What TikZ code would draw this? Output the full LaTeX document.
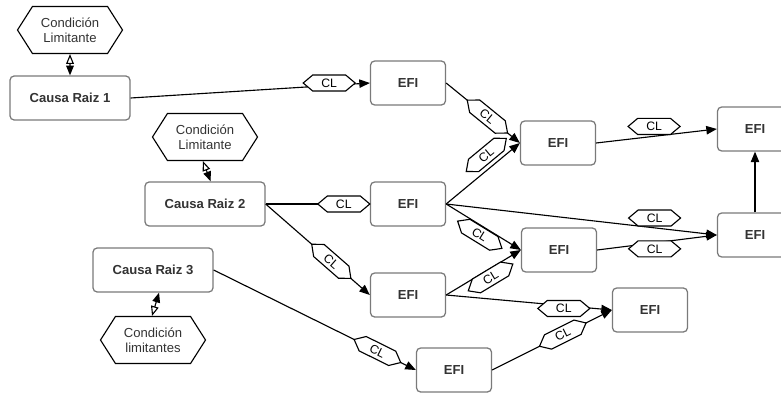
\documentclass[tikz,border=0pt]{standalone}
\usepackage{fontspec}
\setmainfont{Liberation Sans}
\usetikzlibrary{shapes.symbols,arrows.meta}
\definecolor{boxgray}{HTML}{7A7A7A}
\definecolor{txtgray}{HTML}{333333}
\tikzset{
  causa/.style={draw=boxgray, line width=0.9pt, rounded corners=3pt, minimum width=3cm, minimum height=1.1cm, font=\fontsize{9.3}{11}\selectfont\bfseries, text=txtgray},
  efi/.style={causa, minimum width=1.875cm},
  cond/.style={draw, line width=0.8pt, shape=signal, signal to=west and east, signal pointer angle=115, minimum width=2.625cm, minimum height=1.175cm, inner sep=1pt, align=center, font=\fontsize{9.3}{11}\selectfont, text=txtgray},
  cl/.style={draw, fill=white, line width=0.8pt, shape=signal, signal to=west and east, signal pointer angle=80, minimum width=1.3cm, minimum height=0.4cm, inner sep=0.5pt, font=\fontsize{8.7}{9}\selectfont},
  flow/.style={line width=0.8pt, -{Triangle[length=7.5pt,width=6pt]}},
  limit/.style={line width=0.8pt, {Triangle[open,length=7pt,width=5.5pt]}-{Triangle[length=7pt,width=5.5pt]}},
}
\begin{document}
\begin{tikzpicture}[x=0.025cm, y=-0.025cm]
  \useasboundingbox (0,0) rectangle (781,393);

  % root causes and limiting conditions
  \node[cond] (cond1) at (70,30) {Condición\\Limitante};
  \node[causa] (cr1) at (70,98) {Causa Raiz 1};
  \node[cond] (cond2) at (205,137) {Condición\\Limitante};
  \node[causa] (cr2) at (205,204) {Causa Raiz 2};
  \node[causa] (cr3) at (153,270) {Causa Raiz 3};
  \node[cond] (cond3) at (153,340) {Condición\\limitantes};

  % EFI boxes
  \node[efi] (efa) at (408,83) {EFI};
  \node[efi] (efb) at (408,204) {EFI};
  \node[efi] (efc) at (408,295) {EFI};
  \node[efi] (efd) at (454,370) {EFI};
  \node[efi] (efe) at (558,143) {EFI};
  \node[efi] (eff) at (559,250) {EFI};
  \node[efi] (efg) at (650,310) {EFI};
  \node[efi] (efh) at (755,129) {EFI};
  \node[efi] (efi) at (755,235) {EFI};

  % condition links
  \draw[limit] (cond1) -- (cr1);
  \draw[limit] ([xshift=-1.5pt]cond2.south) -- ([xshift=4pt]cr2.north);
  \draw[limit] ([xshift=-0.7pt]cond3.north) -- ([xshift=4.3pt]cr3.south);

  % CL links
  \draw[flow] (cr1.east) -- node[cl, pos=0.83, yshift=1.8pt] {CL} (efa.west);
  \draw[flow] (cr2.east) -- node[cl, pos=0.75] {CL} (efb.west);
  \draw[flow] (cr2.east) -- node[cl, sloped, pos=0.63] {CL} (efc.west);
  \draw[flow] (cr3.east) -- node[cl, sloped, pos=0.81] {CL} (efd.west);
  \draw[flow] (efa.east) -- node[cl, sloped, pos=0.56] {CL} (efe.west);
  \draw[flow] (efb.east) -- node[cl, sloped, pos=0.65, above=2.6pt] {CL} (efe.west);
  \draw[flow] (efb.east) -- node[cl, sloped, pos=0.51, below=0pt] {CL} (eff.west);
  \draw[flow] (efb.east) -- node[cl, pos=0.77, yshift=7pt] {CL} (efi.west);
  \draw[flow] (efc.east) -- node[cl, sloped, pos=0.54, below=-0.5pt] {CL} (eff.west);
  \draw[flow] (efc.east) -- node[cl, pos=0.71, yshift=-2pt] {CL} (efg.west);
  \draw[flow] (efd.east) -- node[cl, sloped, pos=0.59] {CL} (efg.west);
  \draw[flow] (efe.east) -- node[cl, pos=0.48, yshift=7pt] {CL} (efh.west);
  \draw[flow] (eff.east) -- node[cl, pos=0.48, yshift=-4.3pt] {CL} (efi.west);
  \draw[flow] (efi) -- (efh);
\end{tikzpicture}
\end{document}
